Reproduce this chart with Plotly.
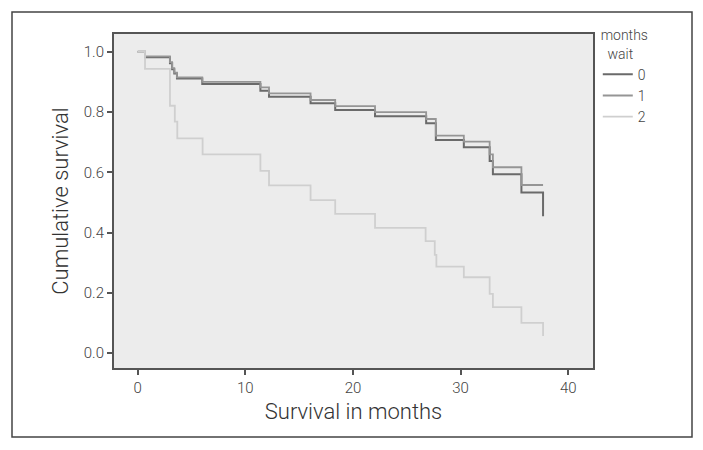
import plotly.graph_objects as go

# Kaplan-Meier step data
months_wait = ["0", "1", "2"]

t0 = [0, 0.68, 3.0, 3.2, 3.4, 3.65, 6.0, 11.4, 12.2, 16.06, 18.35, 22.05, 26.8, 27.7, 30.3, 32.7, 33.0, 35.65, 37.66]
s0 = [1.0, 0.982, 0.962, 0.942, 0.928, 0.911, 0.893, 0.871, 0.851, 0.829, 0.807, 0.786, 0.763, 0.707, 0.683, 0.638, 0.594, 0.533, 0.454]

t1 = [0, 0.68, 3.0, 3.2, 3.4, 3.65, 6.0, 11.4, 12.2, 16.06, 18.35, 22.05, 26.8, 27.7, 30.3, 32.7, 33.0, 35.65, 37.66]
s1 = [1.0, 0.985, 0.966, 0.946, 0.931, 0.915, 0.900, 0.882, 0.862, 0.840, 0.820, 0.800, 0.777, 0.722, 0.702, 0.660, 0.617, 0.558, 0.558]

t2 = [0, 0.68, 3.0, 3.45, 3.68, 6.03, 11.4, 12.2, 16.06, 18.35, 22.05, 26.75, 27.6, 27.75, 30.3, 32.7, 33.0, 35.65, 37.66]
s2 = [1.0, 0.943, 0.821, 0.768, 0.713, 0.660, 0.605, 0.557, 0.508, 0.462, 0.416, 0.372, 0.326, 0.287, 0.252, 0.197, 0.153, 0.101, 0.057]

x_ticks = [0, 10, 20, 30, 40]
y_ticks = [0.0, 0.2, 0.4, 0.6, 0.8, 1.0]

FONT = "Roboto, Liberation Sans Narrow, sans-serif"

series = [(t0, s0, "#6a6a6a", 2.0), (t1, s1, "#959595", 1.8), (t2, s2, "#cfcfcf", 1.8)]

fig = go.Figure()
for name, (t, s, col, w) in zip(months_wait, series):
    fig.add_trace(go.Scatter(x=t, y=s, mode="lines", line=dict(shape="hv", color=col, width=w),
                             name=name, hoverinfo="x+y"))

axis_common = dict(showline=True, linecolor="#555555", linewidth=2, mirror=True,
                   ticks="outside", tickcolor="#555555", tickwidth=1.5,
                   showgrid=False, zeroline=False, automargin=False,
                   tickfont=dict(family=FONT, size=15, color="#444444", weight=300))

fig.update_xaxes(range=[-2.2, 42.3], tickvals=x_ticks, ticklen=5,
                 title=dict(text="Survival in months", font=dict(family=FONT, size=22, color="#333333", weight=300), standoff=8),
                 **axis_common)
fig.update_yaxes(range=[-0.049, 1.059], tickvals=y_ticks, tickformat=".1f", ticklen=5,
                 title=dict(text="Cumulative survival", font=dict(family=FONT, size=22, color="#333333", weight=300), standoff=9),
                 **axis_common)

# page body has an 8px margin, so the figure is sized to fit the 703x450 window
W, H = 695, 442
L, R, T, B = 106, 110, 26, 82
pw, ph = W - L - R, H - T - B

fig.update_layout(
    width=W, height=H,
    margin=dict(l=L, r=R, t=T, b=B, autoexpand=False),
    paper_bgcolor="white", plot_bgcolor="#ececec",
    showlegend=True,
    legend=dict(x=1.01, y=1.035, xanchor="left", yanchor="top",
                title=dict(text="months<br>&nbsp;&nbsp;wait", side="top center",
                           font=dict(family=FONT, size=14, color="#444444", weight=300)),
                font=dict(family=FONT, size=14, color="#444444", weight=300),
                bgcolor="rgba(0,0,0,0)", itemwidth=30, tracegroupgap=0),
    shapes=[dict(type="rect", xref="paper", yref="paper",
                 x0=(4 - L) / pw, x1=(684 - L) / pw, y0=((H - B) - 429) / ph, y1=((H - B) - 4) / ph,
                 line=dict(color="#444444", width=1.5), layer="below")],
)

fig.write_html("out.html")
